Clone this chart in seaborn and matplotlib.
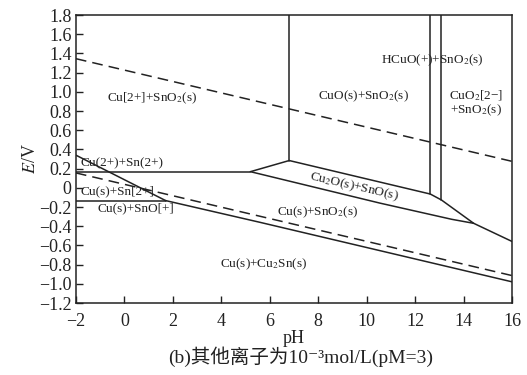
import matplotlib
matplotlib.use("Agg")
import matplotlib.pyplot as plt
import seaborn as sns
import pandas as pd
import numpy as np

# boundary lines (pH, E/V)
o2_ph = [-2, 16]
o2_e = [1.345, 0.275]
h2_ph = [-2, 16]
h2_e = [0.155, -0.915]

solid_lines = {
    "cu2_sn2_steep": ([-2, 1.7], [0.34, -0.133]),
    "cu_cu2sn": ([1.7, 5.6, 16], [-0.133, -0.36, -0.98]),
    "h_0168": ([-2, 5.2], [0.168, 0.168]),
    "h_m0137": ([-2, 1.7], [-0.137, -0.137]),
    "cuo_cu2o_left": ([5.2, 6.8], [0.168, 0.284]),
    "cu2o_top": ([6.8, 12.62, 13.08, 14.41, 16], [0.284, -0.065, -0.127, -0.37, -0.56]),
    "cu2o_bottom": ([5.2, 10.55, 13.5, 14.41], [0.168, -0.16, -0.328, -0.37]),
    "v_68": ([6.8, 6.8], [0.284, 1.8]),
    "v_1262": ([12.62, 12.62], [-0.065, 1.8]),
    "v_1308": ([13.08, 13.08], [-0.127, 1.8]),
}

region_labels = [
    ("Cu[2+]+SnO$_2$(s)", 1.13, 0.93, "center", 0),
    ("CuO(s)+SnO$_2$(s)", 9.87, 0.95, "center", 0),
    ("HCuO(+)+SnO$_2$(s)", 12.72, 1.33, "center", 0),
    ("CuO$_2$[2−]", 14.5, 0.96, "center", 0),
    ("+SnO$_2$(s)", 14.5, 0.81, "center", 0),
    ("Cu(2+)+Sn(2+)", -1.8, 0.255, "left", 0),
    ("Cu(s)+Sn[2+]", -1.8, -0.04, "left", 0),
    ("Cu(s)+SnO[+]", -1.1, -0.21, "left", 0),
    ("Cu$_2$O(s)+SnO(s)", 9.46, 0.01, "center", -13),
    ("Cu(s)+SnO$_2$(s)", 7.97, -0.25, "center", 0),
    ("Cu(s)+Cu$_2$Sn(s)", 5.74, -0.80, "center", 0),
]

xticks = list(range(-2, 17, 2))
yticks = [round(v, 1) for v in np.arange(-1.2, 1.81, 0.2)]

sns.set_theme(style="ticks")
plt.rcParams["font.family"] = ["Liberation Serif", "Noto Sans CJK SC", "DejaVu Sans"]
plt.rcParams["mathtext.fontset"] = "stix"
plt.rcParams["axes.unicode_minus"] = True

fig = plt.figure(figsize=(5.27, 3.75), dpi=100)
ax = fig.add_axes([0.144, 0.192, 0.828, 0.768])

for name, (xs, ys) in solid_lines.items():
    d = pd.DataFrame({"pH": xs, "E": ys})
    sns.lineplot(data=d, x="pH", y="E", ax=ax, color="#222222", lw=1.1, sort=False, estimator=None)

for xs, ys in [(o2_ph, o2_e), (h2_ph, h2_e)]:
    d = pd.DataFrame({"pH": xs, "E": ys})
    sns.lineplot(data=d, x="pH", y="E", ax=ax, color="#222222", lw=1.1, sort=False,
                 estimator=None, dashes=False, linestyle=(0, (7, 4)))

for txt, x, y, ha, rot in region_labels:
    ax.text(x, y, txt, ha=ha, va="center", rotation=rot, fontsize=9.5, color="#222222",
            rotation_mode="anchor")

ax.set_xlim(-2, 16)
ax.set_ylim(-1.2, 1.8)
ax.set_xticks(xticks)
ax.set_yticks(yticks)
ax.set_yticklabels(["0" if v == 0 else f"{v:.1f}".replace("-", "−") for v in yticks])
ax.set_xticklabels([str(v).replace("-", "−") for v in xticks])
ax.tick_params(direction="in", length=5, width=1, labelsize=13, colors="#222222", pad=3)
ax.tick_params(axis="x", pad=7)
for s in ax.spines.values():
    s.set_linewidth(1.1)
    s.set_color("#222222")

ax.set_xlabel("pH", fontsize=13, labelpad=0, color="#222222")
ax.set_ylabel("$E$/V", fontsize=13, labelpad=0, color="#222222")
fig.text(0.571, 0.048, "(b)其他离子为10⁻³mol/L(pM=3)", ha="center", va="center",
         fontsize=14, color="#222222")

fig.savefig("out.png", dpi=100, facecolor="white")
